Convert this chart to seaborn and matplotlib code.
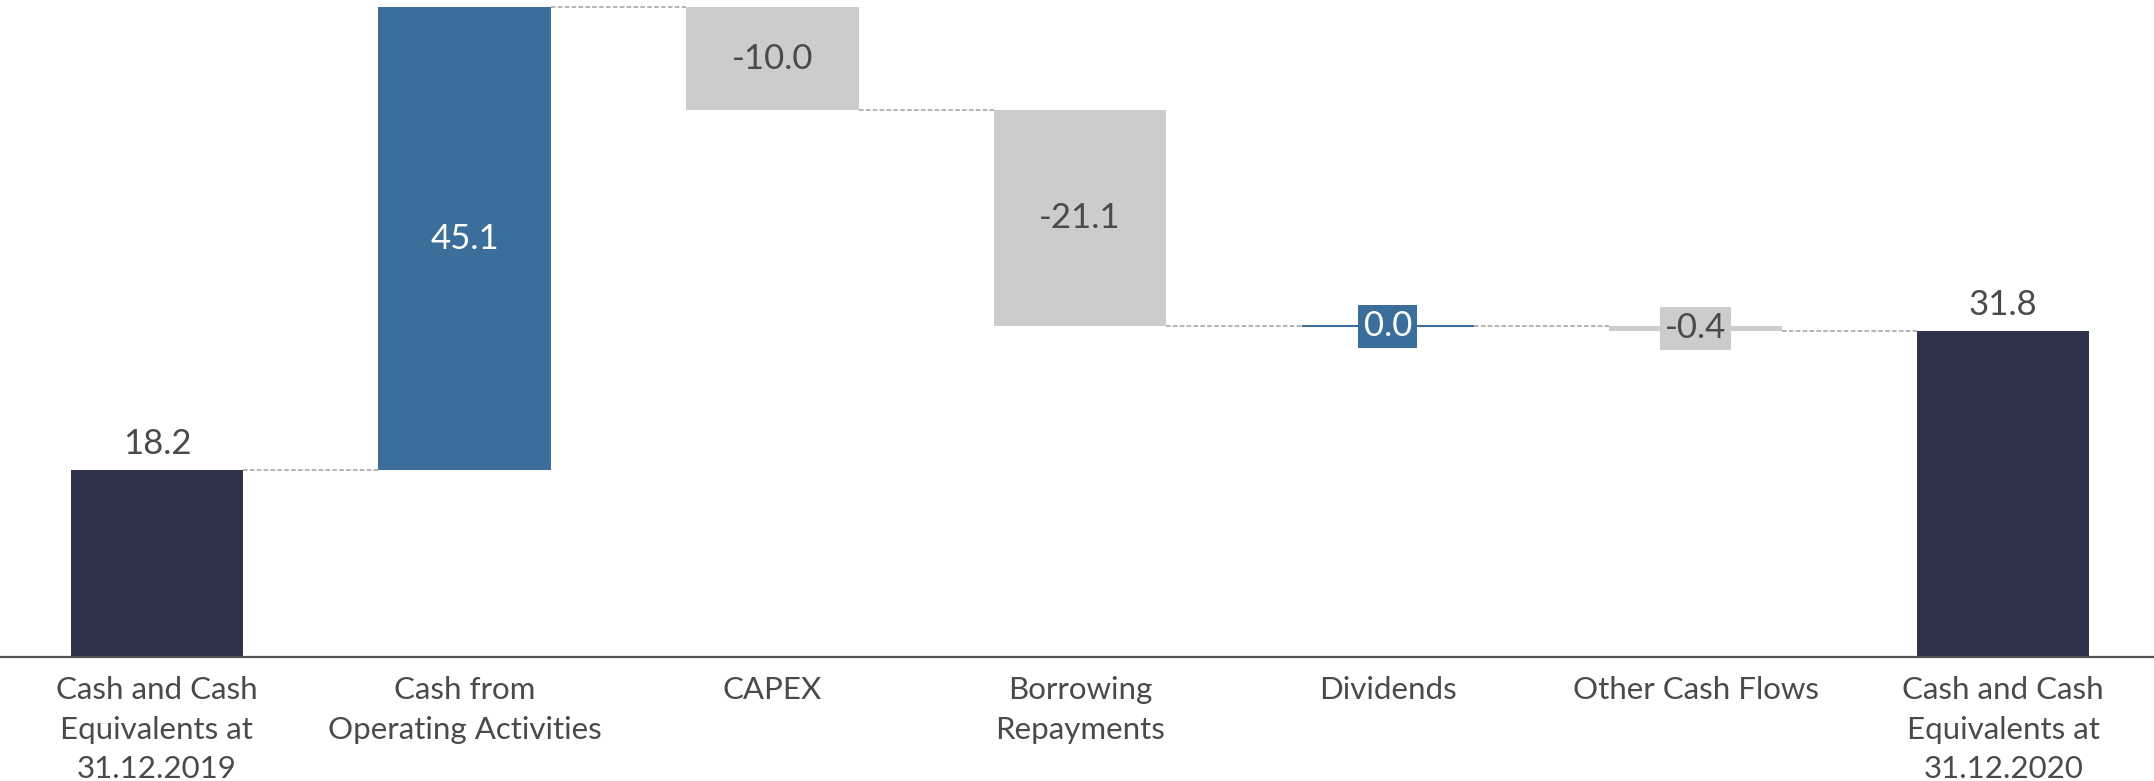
import numpy as np
import pandas as pd
import matplotlib
matplotlib.use("Agg")
import matplotlib.pyplot as plt
import seaborn as sns

categories = ["Cash and Cash\nEquivalents at\n31.12.2019",
              "Cash from\nOperating Activities",
              "CAPEX",
              "Borrowing\nRepayments",
              "Dividends",
              "Other Cash Flows",
              "Cash and Cash\nEquivalents at\n31.12.2020"]
values = [18.2, 45.1, -10.0, -21.1, 0.0, -0.4, 31.8]
kinds = ["total", "delta", "delta", "delta", "delta", "delta", "total"]

NAVY = "#2E334B"
BLUE = "#3B6E9A"
GRAY = "#CCCCCC"
TEXT = "#4A4A4A"

# waterfall geometry from data
bottoms, heights, levels = [], [], []
level = 0.0
for v, k in zip(values, kinds):
    if k == "total":
        bottoms.append(0.0)
        heights.append(v)
        level = v
    else:
        new = level + v
        bottoms.append(min(level, new))
        heights.append(abs(v))
        level = new
    levels.append(level)

colors = []
for v, k in zip(values, kinds):
    if k == "total":
        colors.append(NAVY)
    elif v >= 0:
        colors.append(BLUE)
    else:
        colors.append(GRAY)

df = pd.DataFrame({"cat": categories, "height": heights, "bottom": bottoms})

sns.set_theme(style="white")
plt.rcParams["font.family"] = ["Lato", "DejaVu Sans"]

fig = plt.figure(figsize=(21.54, 7.81), dpi=100)
ax = fig.add_axes([0.0, 0.1588, 1.0, 0.8412])

W = 0.56
sns.barplot(data=df, x="cat", y="height", order=categories, bottom=df["bottom"].values,
            width=W, color=GRAY, saturation=1, errorbar=None, ax=ax)

for p, c, h in zip(ax.patches, colors, heights):
    p.set_facecolor(c)
    p.set_edgecolor(c)
    p.set_linewidth(1.5 if h == 0 else 0)

# connectors
for i in range(len(values) - 1):
    ax.plot([i + W / 2, i + 1 - W / 2], [levels[i], levels[i]],
            color="#A0A0A0", lw=1.1, ls=(0, (3, 1.5)), zorder=1)

# value labels
for i, (v, k, b, h, c) in enumerate(zip(values, kinds, bottoms, heights, colors)):
    txt = f"{v:.1f}"
    if k == "total":
        ax.annotate(txt, (i, b + h), xytext=(0, 7), textcoords="offset points",
                    ha="center", va="bottom", fontsize=25, color=TEXT)
    else:
        tc = "white" if c == BLUE else TEXT
        if h < 2:
            ax.text(i, b + h / 2, txt, ha="center", va="center", fontsize=25, color=tc,
                    bbox=dict(boxstyle="square,pad=0.15", fc=c, ec="none"))
        else:
            ax.text(i, b + h / 2, txt, ha="center", va="center", fontsize=25, color=tc)

ax.set_xlim(-0.51, 6.49)
ax.set_ylim(0, 64.0)
ax.set_xlabel("")
ax.set_ylabel("")
ax.set_yticks([])
for s in ["top", "right", "left"]:
    ax.spines[s].set_visible(False)
ax.spines["bottom"].set_color("#555555")
ax.spines["bottom"].set_linewidth(1.6)
ax.tick_params(axis="x", length=0, pad=14, labelsize=22.5, labelcolor=TEXT)
for lab in ax.get_xticklabels():
    lab.set_linespacing(1.5)
    lab.set_va("top")

fig.savefig("out.png", dpi=100, facecolor="white")
